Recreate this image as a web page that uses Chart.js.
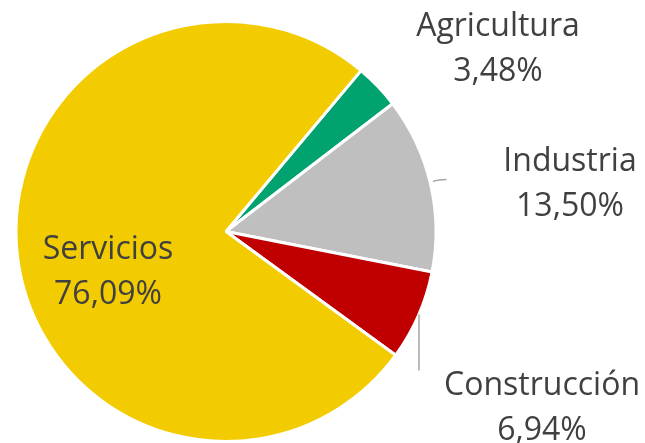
<!DOCTYPE html>
<html>
<head>
<meta charset="utf-8">
<script src="https://cdn.jsdelivr.net/npm/chart.js@4"></script>
<style>
  html, body { margin: 0; padding: 0; background: #fff; }
  #wrap { width: 645px; height: 443px; }
</style>
</head>
<body>
<div id="wrap"><canvas id="pie" width="645" height="443"></canvas></div>
<script>
const sectors = ['Agricultura', 'Industria', 'Construcción', 'Servicios'];
const shares = [3.48, 13.50, 6.94, 76.09];
const sectorColors = ['#00A36F', '#BFBFBF', '#C00000', '#F2CB00'];

// where each label block sits, relative to pie centre
const labelSpots = [
  { dx: 272, dy: -183 },
  { dx: 344, dy: -48 },
  { dx: 316, dy: 176 },
  { dx: -118, dy: 40 }
];

function fmt(v) {
  return v.toFixed(2).replace('.', ',') + '%';
}

const labelPlugin = {
  id: 'sectorLabels',
  afterDatasetsDraw(chart) {
    const c = chart.ctx;
    const arcs = chart.getDatasetMeta(0).data;
    const cx = arcs[0].x, cy = arcs[0].y, r = arcs[0].outerRadius;

    // leader lines
    c.save();
    c.strokeStyle = '#A6A6A6';
    c.lineWidth = 1.5;
    c.beginPath();
    c.moveTo(cx + r * 0.986, cy - 50);
    c.quadraticCurveTo(cx + r * 1.01, cy - 52, cx + r * 1.05, cy - 52);
    c.stroke();
    c.beginPath();
    c.moveTo(cx + 193, cy + 83);
    c.lineTo(cx + 193, cy + 139);
    c.stroke();
    c.restore();

    c.save();
    c.font = '32px "Open Sans"';
    c.fillStyle = '#404040';
    c.textAlign = 'center';
    c.textBaseline = 'middle';
    sectors.forEach((name, i) => {
      const p = labelSpots[i];
      c.fillText(name, cx + p.dx, cy + p.dy - 22);
      c.fillText(fmt(shares[i]), cx + p.dx, cy + p.dy + 23);
    });
    c.restore();
  }
};

new Chart(document.getElementById('pie'), {
  type: 'pie',
  data: {
    labels: sectors,
    datasets: [{
      data: shares,
      backgroundColor: sectorColors,
      borderColor: '#FFFFFF',
      borderWidth: 3
    }]
  },
  options: {
    responsive: false,
    animation: false,
    rotation: 40,
    layout: { padding: { left: 13, top: 20, right: 206, bottom: -3 } },
    plugins: {
      legend: { display: false },
      tooltip: { enabled: false }
    }
  },
  plugins: [labelPlugin]
});
</script>
</body>
</html>
